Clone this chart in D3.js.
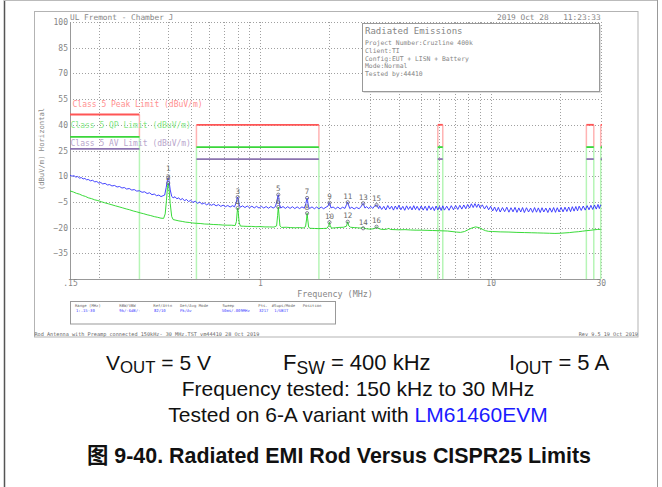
<!DOCTYPE html>
<html><head><meta charset="utf-8">
<script src="https://cdn.jsdelivr.net/npm/d3@7"></script>
<style>
html,body{margin:0;padding:0;background:#fff;}
svg{display:block;}
</style></head><body>
<svg id="c" width="662" height="487"></svg>
<script>
// ---------------- DATA ----------------
const peakTrace = [
[0.150,10.6],[0.153,10.0],[0.156,10.3],[0.159,9.5],[0.162,9.8],[0.165,8.9],[0.168,9.2],[0.171,8.4],[0.174,8.7],[0.177,7.9],[0.180,8.1],[0.184,7.3],[0.188,7.6],[0.192,6.7],[0.196,6.9],[0.200,6.0],[0.204,6.3],[0.208,5.5],[0.213,5.8],[0.218,4.9],[0.223,5.1],[0.228,4.3],[0.234,4.6],[0.240,3.7],[0.246,4.0],[0.252,3.1],[0.258,3.4],[0.264,2.5],[0.271,2.8],[0.278,1.9],[0.285,2.2],[0.292,1.3],[0.300,1.5],[0.308,0.6],[0.316,0.9],[0.324,-0.1],[0.332,0.3],[0.340,-0.8],[0.348,-0.4],[0.356,-1.4],[0.364,-1.0],[0.372,-1.9],[0.380,-1.4],[0.386,-1.0],[0.392,3.5],[0.397,8.0],[0.400,9.0],[0.403,7.5],[0.408,2.0],[0.414,-1.8],[0.420,-2.6],[0.428,-2.0],[0.436,-3.2],[0.444,-2.6],[0.452,-3.8],[0.461,-3.0],[0.470,-4.3],[0.480,-3.6],[0.490,-4.8],[0.500,-4.1],[0.512,-5.3],[0.524,-4.6],[0.536,-5.8],[0.548,-5.1],[0.560,-6.3],[0.573,-5.6],[0.586,-6.7],[0.600,-6.0],[0.615,-7.0],[0.630,-6.3],[0.645,-7.3],[0.660,-6.6],[0.676,-7.6],[0.692,-6.9],[0.708,-7.8],[0.725,-7.1],[0.742,-8.0],[0.760,-7.2],[0.775,-7.9],[0.788,-5.5],[0.796,-2.8],[0.800,-2.2],[0.805,-3.5],[0.812,-6.8],[0.822,-8.1],[0.840,-7.3],[0.860,-8.3],[0.880,-7.4],[0.900,-8.4],[0.922,-7.5],[0.944,-8.5],[0.966,-7.6],[0.990,-8.6],[1.014,-7.6],[1.038,-8.6],[1.063,-7.7],[1.088,-8.7],[1.114,-7.7],[1.140,-8.6],[1.165,-7.8],[1.185,-4.5],[1.196,-1.3],[1.200,-0.8],[1.206,-2.5],[1.215,-6.5],[1.230,-8.6],[1.258,-7.7],[1.288,-8.8],[1.318,-7.8],[1.350,-8.8],[1.382,-7.8],[1.415,-8.9],[1.449,-7.9],[1.484,-8.9],[1.520,-7.9],[1.556,-8.7],[1.580,-6.0],[1.595,-3.2],[1.600,-2.7],[1.607,-4.0],[1.620,-7.4],[1.640,-8.9],[1.680,-7.9],[1.720,-9.0],[1.760,-8.0],[1.800,-9.0],[1.843,-8.0],[1.887,-9.0],[1.932,-8.1],[1.970,-7.5],[1.990,-5.8],[2.000,-5.5],[2.010,-6.2],[2.030,-8.5],[2.075,-8.0],[2.125,-9.0],[2.175,-8.0],[2.225,-9.1],[2.280,-8.1],[2.335,-8.8],[2.375,-6.4],[2.400,-5.2],[2.420,-6.8],[2.450,-8.9],[2.500,-8.1],[2.560,-9.1],[2.620,-8.2],[2.690,-9.0],[2.750,-7.5],[2.790,-6.0],[2.800,-5.8],[2.815,-6.6],[2.850,-8.6],[2.900,-7.8],[2.960,-8.9],[3.020,-7.6],[3.080,-8.8],[3.140,-7.4],[3.190,-6.9],[3.200,-6.8],[3.230,-7.8],[3.270,-8.9],
[3.30,-7.3],[3.37,-9.4],[3.44,-7.6],[3.51,-9.7],[3.58,-7.1],[3.65,-9.2],[3.72,-7.5],[3.79,-9.8],[3.86,-7.4],[3.93,-9.3],[4.00,-7.0],[4.08,-9.6],[4.16,-7.6],[4.24,-9.9],[4.32,-7.3],[4.40,-9.4],[4.48,-7.7],[4.56,-9.7],[4.64,-7.2],[4.72,-9.5],[4.80,-7.6],[4.90,-9.9],[5.00,-7.4],
[5.1,-9.8],[5.2,-7.5],[5.3,-10.0],[5.4,-7.3],[5.5,-9.6],[5.6,-7.8],[5.7,-10.1],[5.8,-7.4],[5.9,-9.7],[6.0,-7.6],[6.1,-10.0],[6.2,-7.3],[6.3,-9.8],[6.45,-7.5],[6.6,-9.9],[6.75,-7.2],[6.9,-9.6],[7.05,-7.1],[7.2,-9.4],[7.35,-7.0],[7.5,-9.2],[7.65,-6.8],[7.8,-9.0],[7.95,-6.5],[8.1,-8.6],[8.25,-6.1],[8.4,-8.3],[8.55,-6.0],[8.7,-8.2],[8.85,-6.2],[9.0,-8.5],[9.2,-6.7],[9.4,-9.1],[9.6,-7.2],[9.8,-9.6],[10.0,-7.6],
[10.2,-10.3],[10.4,-8.0],[10.6,-10.6],[10.8,-8.2],[11.0,-10.9],[11.25,-8.3],[11.5,-10.7],[11.75,-8.1],[12.0,-11.0],[12.25,-8.4],[12.5,-10.8],[12.75,-8.2],[13.0,-11.1],[13.25,-8.5],[13.5,-10.9],[13.75,-8.3],[14.0,-11.2],[14.3,-8.4],[14.6,-10.9],[14.9,-8.6],[15.2,-11.1],[15.5,-8.3],[15.8,-11.0],[16.1,-8.5],[16.4,-11.2],[16.7,-8.4],[17.0,-10.9],[17.35,-8.6],[17.7,-11.2],[18.05,-8.5],[18.4,-11.0],[18.75,-8.3],[19.1,-11.1],[19.45,-8.4],[19.8,-10.9],
[20.2,-8.2],[20.6,-10.8],[21.0,-8.1],[21.4,-10.6],[21.8,-8.0],[22.2,-10.7],[22.6,-7.8],[23.0,-10.4],[23.4,-7.7],[23.8,-10.2],[24.2,-7.5],[24.7,-10.0],[25.2,-7.4],[25.7,-9.8],[26.2,-7.2],[26.7,-9.6],[27.2,-7.0],[27.7,-9.4],[28.2,-6.8],[28.7,-9.2],[29.2,-6.5],[29.6,-8.9],[30.0,-6.6]
];
const avgTrace = [
[0.150,1.4],[0.155,0.8],[0.160,0.0],[0.165,-0.5],[0.170,-1.3],[0.175,-1.8],[0.180,-2.6],[0.186,-3.1],[0.192,-3.8],[0.198,-4.2],[0.205,-4.9],[0.212,-5.5],[0.220,-6.1],[0.228,-6.7],[0.236,-7.3],[0.245,-7.9],[0.254,-8.5],[0.263,-9.1],[0.272,-9.6],[0.282,-10.3],[0.292,-10.8],[0.302,-11.4],[0.313,-11.9],[0.324,-12.5],[0.336,-13.0],[0.348,-13.6],[0.360,-14.0],[0.372,-14.5],[0.382,-14.6],[0.388,-12.0],[0.393,-4.0],[0.397,3.5],[0.400,6.0],[0.403,3.0],[0.408,-6.0],[0.414,-13.5],[0.420,-15.3],[0.432,-15.7],[0.445,-16.1],[0.460,-16.4],[0.476,-16.8],[0.493,-17.0],[0.510,-17.3],[0.530,-17.5],[0.550,-17.6],[0.575,-17.9],[0.600,-18.0],[0.630,-18.2],[0.660,-18.3],[0.690,-18.5],[0.720,-18.6],[0.750,-18.6],[0.780,-18.8],[0.790,-16.5],[0.796,-11.0],[0.800,-8.6],[0.805,-11.5],[0.812,-17.0],[0.822,-19.1],[0.850,-19.2],[0.880,-19.3],[0.920,-19.3],[0.960,-19.5],[1.000,-19.4],[1.050,-19.6],[1.100,-19.6],[1.150,-19.7],[1.180,-19.0],[1.192,-13.0],[1.200,-8.0],[1.208,-12.0],[1.220,-19.0],[1.240,-19.9],[1.300,-19.8],[1.360,-20.0],[1.420,-20.1],[1.480,-20.0],[1.540,-20.2],[1.575,-19.5],[1.592,-15.0],[1.600,-11.6],[1.608,-14.5],[1.625,-19.8],[1.650,-20.4],[1.720,-20.5],[1.800,-20.6],[1.880,-20.5],[1.950,-20.4],[1.985,-19.0],[2.000,-16.9],[2.015,-18.8],[2.040,-20.3],[2.120,-20.1],[2.200,-19.9],[2.300,-19.8],[2.370,-19.2],[2.400,-16.6],[2.425,-19.0],[2.470,-19.8],[2.560,-20.0],[2.650,-20.1],[2.740,-20.3],[2.780,-20.0],[2.800,-19.8],[2.820,-20.4],[2.900,-20.7],[3.000,-20.9],[3.100,-20.7],[3.170,-20.3],[3.200,-19.5],[3.230,-20.3],[3.350,-21.0],[3.500,-21.1],[3.580,-20.7],[3.620,-20.5],[3.680,-21.1],[3.850,-21.2],[4.000,-21.3],[4.250,-21.2],[4.500,-21.4],[4.750,-21.5],[5.000,-21.5],[5.300,-21.6],[5.600,-21.7],[5.900,-21.8],[6.200,-21.9],[6.500,-22.0],[6.800,-22.3],[7.100,-22.6],[7.400,-22.8],[7.700,-22.3],[8.000,-21.2],[8.300,-20.2],[8.600,-19.6],[8.900,-20.0],[9.200,-21.0],[9.500,-21.8],[9.800,-22.2],[10.200,-22.3],[11.000,-22.5],[12.000,-22.6],[13.000,-22.8],[14.000,-22.9],[15.000,-23.0],[16.000,-23.1],[17.000,-23.2],[18.000,-23.3],[19.000,-23.4],[20.000,-23.3],[21.000,-23.1],[22.000,-22.9],[23.000,-22.6],[24.000,-22.4],[25.000,-22.1],[26.000,-21.8],[27.000,-21.6],[28.000,-21.3],[29.000,-21.1],[30.000,-21.0]
];
const markers = [[1,0.4,9.0],[2,0.4,6.0],[3,0.8,-2.2],[4,0.8,-8.6],[5,1.2,-0.8],[6,1.2,-8.0],[7,1.6,-2.7],[8,1.6,-11.6],[9,2.0,-5.5],[10,2.0,-16.9],[11,2.4,-5.2],[12,2.4,-16.6],[13,2.8,-5.8],[14,2.8,-20.4],[15,3.2,-6.8],[16,3.2,-19.5]];
// [start MHz, end MHz, peak, QP, AV] dBuV/m
const limitBands = [[0.15,0.3,46,33,26],[0.53,1.8,40,27,20],[5.9,6.2,40,27,20],[26,28,40,27,20],[30,54,40,27,20]];
const limitNames = ["Class 5 Peak Limit (dBuV/m)","Class 5 QP Limit (dBuV/m)","Class 5 AV Limit (dBuV/m)"];
const yTicks = [100,85,70,55,40,25,10,-5,-20,-35];
const xTicks = [0.15,1,10,30];
const xTickLabels = [".15","1","10","30"];
const gridFreqs = [0.2,0.3,0.4,0.5,0.6,0.7,0.8,0.9,1,2,3,4,5,6,7,8,9,10,20,30];
const gridLevels = [100,85,70,55,40,25,10,-5,-20,-35];
const infoTitle = "Radiated Emissions";
const infoLines = ["Project Number:Cruzline 400k","Client:TI","Config:EUT + LISN + Battery","Mode:Normal","Tested by:44410"];
const tableHeaders = ["Range (MHz)","RBW/VBW","Ref/Attn","Det/Avg Mode","Sweep","Pts.","#Sups/Mode","Position"];
const tableValues = ["1:.15-30","9k/-6dB/-","82/10","Pk/Av","50ms/.009MHz","3217","1/UBIT",""];

// ---------------- DRAW ----------------
const svg = d3.select("#c");
const mono = '"DejaVu Sans Mono","Liberation Mono",monospace';
const sans = '"Liberation Sans",Arial,"Noto Sans CJK SC",sans-serif';
const x = d3.scaleLog().domain([0.15,30]).range([70,600.7]);
const y = d3.scaleLinear().domain([-50,100]).range([279,22]);
const X0 = x.range()[0], X1 = x.range()[1], Y0 = y.range()[0], Y1 = y.range()[1];
const txtGray = "#858585";

// page frame
svg.append("line").attr("x1",4.5).attr("x2",4.5).attr("y1",0).attr("y2",487).attr("stroke","#555").attr("stroke-width",1.5);
svg.append("line").attr("x1",4).attr("x2",658).attr("y1",0.5).attr("y2",0.5).attr("stroke","#bbb");
svg.append("line").attr("x1",657.5).attr("x2",657.5).attr("y1",0).attr("y2",487).attr("stroke","#999");

// chart frame
svg.append("rect").attr("x",34.5).attr("y",11.5).attr("width",603.5).attr("height",325.5)
  .attr("fill","none").attr("stroke","#b3b3b3");

function smallText(g, tx, ty, txt, size, color, anchor){
  return g.append("text").attr("transform",`translate(${tx},${ty}) scale(0.5)`)
    .attr("font-family",mono).attr("font-size",size*2).attr("fill",color)
    .attr("text-anchor",anchor||"start").text(txt);
}

// grid
const grid = svg.append("g");
grid.selectAll("line.h").data(gridLevels).join("line")
  .attr("x1",X0).attr("x2",X1).attr("y1",d=>Math.round(y(d))+0.5).attr("y2",d=>Math.round(y(d))+0.5)
  .attr("stroke","#a0a0a0").attr("stroke-dasharray","1,2");
grid.selectAll("line.v").data(gridFreqs).join("line")
  .attr("x1",d=>Math.round(x(d))+0.5).attr("x2",d=>Math.round(x(d))+0.5).attr("y1",Y1).attr("y2",Y0)
  .attr("stroke","#a0a0a0").attr("stroke-dasharray","1,2");
svg.append("line").attr("x1",X0+0.5).attr("x2",X0+0.5).attr("y1",Y1).attr("y2",Y0+0.5).attr("stroke","#999");
svg.append("line").attr("x1",X0).attr("x2",X1).attr("y1",Y0+0.5).attr("y2",Y0+0.5).attr("stroke","#999");

// axes labels
const ya = svg.append("g").attr("transform",`translate(${X0},0)`)
  .call(d3.axisLeft(y).tickValues(yTicks).tickSize(0).tickPadding(2));
ya.select(".domain").remove();
ya.selectAll("text").attr("font-family",mono).attr("font-size",8).attr("fill",txtGray);
const xa = svg.append("g").attr("transform",`translate(0,${Y0})`)
  .call(d3.axisBottom(x).tickValues(xTicks).tickFormat((d,i)=>xTickLabels[i]).tickSize(0).tickPadding(1.5));
xa.select(".domain").remove();
xa.selectAll("text").attr("font-family",mono).attr("font-size",8).attr("fill",txtGray);

svg.append("text").attr("transform","translate(44,149) rotate(-90)").attr("text-anchor","middle")
  .attr("font-family",mono).attr("font-size",7.2).attr("fill","#8a8a8a").text("(dBuV/m) Horizontal");
svg.append("text").attr("x",335).attr("y",297).attr("text-anchor","middle")
  .attr("font-family",mono).attr("font-size",8.4).attr("fill",txtGray).text("Frequency (MHz)");

// header texts
svg.append("text").attr("x",70).attr("y",19.5).attr("font-family",mono).attr("font-size",7.8).attr("fill",txtGray).text("UL Fremont - Chamber J");
svg.append("text").attr("x",497).attr("y",19.5).attr("font-family",mono).attr("font-size",7.8).attr("fill",txtGray).text("2019 Oct 28");
svg.append("text").attr("x",600.7).attr("y",19.5).attr("text-anchor","end").attr("font-family",mono).attr("font-size",7.8).attr("fill",txtGray).text("11:23:33");

// limits
svg.append("clipPath").attr("id","pc").append("rect").attr("x",X0).attr("y",0).attr("width",X1-X0+1.2).attr("height",Y0+1);
const lim = svg.append("g").attr("clip-path","url(#pc)");
limitBands.forEach(b=>{
  const [f0,f1,pk,qp,av] = b;
  const xs = [f0,f1].filter(f=>f>0.15);
  xs.forEach(f=>{
    lim.append("line").attr("x1",x(f)).attr("x2",x(f)).attr("y1",y(pk)).attr("y2",y(qp)).attr("stroke","#ffb3b3").attr("stroke-width",1.5);
    lim.append("line").attr("x1",x(f)).attr("x2",x(f)).attr("y1",y(qp)).attr("y2",Y0).attr("stroke","#b6f5b6").attr("stroke-width",1.5);
  });
  lim.append("line").attr("x1",x(f0)).attr("x2",x(f1)).attr("y1",y(pk)).attr("y2",y(pk)).attr("stroke","#ff5555").attr("stroke-width",1.8);
  lim.append("line").attr("x1",x(f0)).attr("x2",x(f1)).attr("y1",y(qp)).attr("y2",y(qp)).attr("stroke","#3ad63a").attr("stroke-width",1.8);
  lim.append("line").attr("x1",x(f0)).attr("x2",x(f1)).attr("y1",y(av)).attr("y2",y(av)).attr("stroke","#8c74b0").attr("stroke-width",1.8);
});
const legendColors = ["#ff9090","#88e888","#b8a6cc"];
const legendPos = [[72.5,107],[70.5,128],[70.5,146]];
limitNames.forEach((t,i)=>{
  svg.append("text").attr("x",legendPos[i][0]).attr("y",legendPos[i][1]).attr("font-family",mono)
    .attr("font-size",8).attr("fill",legendColors[i]).text(t);
});

// traces
const line = d3.line().x(d=>x(d[0])).y(d=>y(d[1]));
svg.append("path").datum(avgTrace).attr("d",line).attr("fill","none").attr("stroke","#22d622").attr("stroke-width",0.9);
svg.append("path").datum(peakTrace).attr("d",line).attr("fill","none").attr("stroke","#2f2fff").attr("stroke-width",0.9);

// markers
const mg = svg.append("g");
markers.forEach(m=>{
  const [id,f,v] = m;
  const lift = id === 1 ? 7 : 3.5;
  mg.append("circle").attr("cx",x(f)).attr("cy",y(v)).attr("r",1.6).attr("fill","none").attr("stroke","#667").attr("stroke-width",0.8);
  mg.append("text").attr("x",x(f)).attr("y",y(v)-lift).attr("text-anchor","middle").attr("font-family",mono)
    .attr("font-size",7.5).attr("fill","#6a6a6a").text(id);
});

// info box
svg.append("rect").attr("x",363.5).attr("y",25).attr("width",237.5).attr("height",68).attr("fill","#ddd");
svg.append("rect").attr("x",362.5).attr("y",23.5).attr("width",237).attr("height",68).attr("fill","#fff").attr("stroke","#999");
svg.append("text").attr("x",365).attr("y",34).attr("font-family",mono).attr("font-size",9).attr("fill",txtGray).text(infoTitle);
infoLines.forEach((t,i)=>{
  svg.append("text").attr("x",365).attr("y",45+i*7.8).attr("font-family",mono).attr("font-size",6.4).attr("fill",txtGray).text(t);
});

// bottom table
svg.append("rect").attr("x",70.5).attr("y",301.5).attr("width",265).attr("height",22.5).attr("fill","none").attr("stroke","#999");
const hdrX = [75,119.3,153.3,180,222.5,258.3,271.7,302.7];
const valX = [76,119.3,154,180,221.7,259,274.3,302.7];
const tg = svg.append("g");
tableHeaders.forEach((t,i)=>smallText(tg,hdrX[i],306.5,t,3.9,"#666"));
tableValues.forEach((t,i)=>smallText(tg,valX[i],311.8,t,3.9,"#3a3aff"));
smallText(tg,34.5,335.8,"Rod Antenna with Preamp connected 150kHz- 30 MHz.TST vm44410 28 Oct 2019",5.2,"#666");
smallText(tg,638,335.8,"Rev 9.5 19 Oct 2019",5.2,"#666","end");

// captions
function sub(t, main, subs, after){
  t.append("tspan").text(main);
  t.append("tspan").attr("font-size","0.8em").attr("dy","0.2em").text(subs);
  t.append("tspan").attr("dy","-0.16em").text(after);
}
const c1 = svg.append("g").attr("font-family",sans).attr("font-size",21).attr("fill","#111");
sub(c1.append("text").attr("x",106).attr("y",370).attr("font-size",21),"V","OUT"," = 5 V");
sub(c1.append("text").attr("x",283).attr("y",370).attr("font-size",22),"F","SW"," = 400 kHz");
sub(c1.append("text").attr("x",509).attr("y",370).attr("font-size",22),"I","OUT"," = 5 A");
c1.append("text").attr("x",358).attr("y",396).attr("text-anchor","middle").text("Frequency tested: 150 kHz to 30 MHz");
const l3 = c1.append("text").attr("x",358).attr("y",422).attr("text-anchor","middle");
l3.append("tspan").text("Tested on 6-A variant with ");
l3.append("tspan").attr("fill","#1a1aff").text("LM61460EVM");
c1.append("text").attr("x",87).attr("y",463).attr("font-size",21.4).attr("font-weight","bold").text("图 9-40. Radiated EMI Rod Versus CISPR25 Limits");
</script></body></html>
